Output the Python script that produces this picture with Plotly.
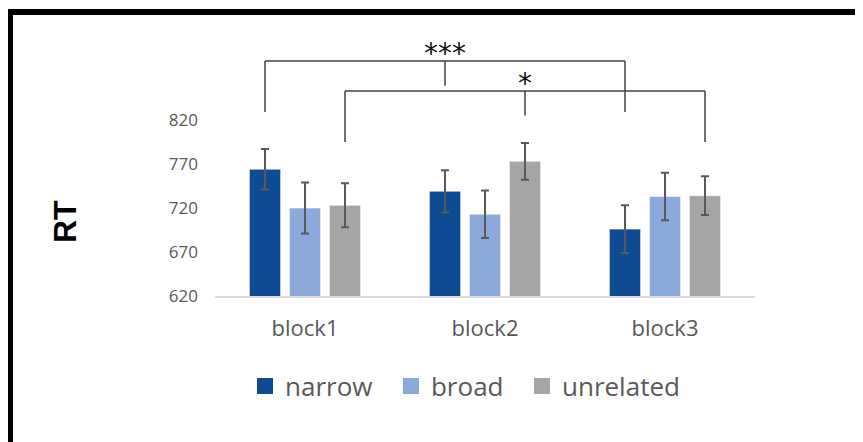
import plotly.graph_objects as go

# ---- data ----
categories = ["block1", "block2", "block3"]
series_names = ["narrow", "broad", "unrelated"]
narrow = [764, 739, 696]
broad = [720, 713, 733]
unrelated = [723, 773, 734]
narrow_err = [23, 24, 27]
broad_err = [29, 27, 27]
unrelated_err = [25, 21, 22]
colors = ["#0F4B93", "#8CA9DC", "#A5A5A5"]
y_ticks = [620, 670, 720, 770, 820]

# significance brackets: (start block, start series), (end block, end series), level, label
bracket_start = [(0, 0), (0, 2)]
bracket_end = [(2, 0), (2, 2)]
bracket_level = [887, 853]
bracket_label = ["***", "*"]

values = [narrow, broad, unrelated]
errors = [narrow_err, broad_err, unrelated_err]

OFF = 8  # page body margin
W, H = 863 - OFF, 442 - OFF
ML, MT = 215 - OFF, 32 - OFF
MR = W - (755 - OFF)
MB = H - (296 - OFF)
YMIN, YMAX = 620, 920
BARGAP = 1 / 3
n_series = len(series_names)
slot = (1 - BARGAP) / n_series

NB = "\u00a0"
legend_names = [series_names[0] + NB * 2, series_names[1] + NB * 2, series_names[2]]

fig = go.Figure()
for name, lname, vals, errs, col in zip(series_names, legend_names, values, errors, colors):
    fig.add_trace(go.Bar(
        x=categories, y=vals, name=name, showlegend=False,
        marker=dict(color=col, line=dict(color="rgba(255,255,255,0.55)", width=1)),
        error_y=dict(type="data", array=errs, visible=True,
                     color="#595959", thickness=2, width=4),
    ))
    # legend entry with a larger square swatch
    fig.add_trace(go.Scatter(
        x=[None], y=[None], mode="markers", name=lname,
        marker=dict(symbol="square", size=17, color=col),
    ))

def bar_x(block, series):
    return block - (1 - BARGAP) / 2 + slot * (series + 0.5)

line_style = dict(color="#404040", width=1.5)
foot_drop = 58
mid_drop = 28
for (b0, s0), (b1, s1), lvl, lab in zip(bracket_start, bracket_end, bracket_level, bracket_label):
    x0, x1 = bar_x(b0, s0), bar_x(b1, s1)
    xm = (x0 + x1) / 2
    fig.add_shape(type="line", xref="x", yref="y", x0=x0, x1=x1, y0=lvl, y1=lvl, line=line_style)
    fig.add_shape(type="line", xref="x", yref="y", x0=x0, x1=x0, y0=lvl, y1=lvl - foot_drop, line=line_style)
    fig.add_shape(type="line", xref="x", yref="y", x0=x1, x1=x1, y0=lvl, y1=lvl - foot_drop, line=line_style)
    fig.add_shape(type="line", xref="x", yref="y", x0=xm, x1=xm, y0=lvl, y1=lvl - mid_drop, line=line_style)
    fig.add_annotation(x=xm, y=lvl, xref="x", yref="y", text=lab, showarrow=False,
                       yanchor="bottom", yshift=-11,
                       font=dict(family="DejaVu Sans", size=28, color="#111111"))

pw = W - ML - MR
ph = H - MT - MB

def px2paper(px, py):
    # px, py are page coordinates of the reference image
    return (px - OFF - ML) / pw, (H - MB - (py - OFF)) / ph

# page frame (top and left thick borders)
tx0, ty = px2paper(7, 12)
tx1, _ = px2paper(863, 12)
fig.add_shape(type="line", xref="paper", yref="paper", x0=tx0, x1=tx1, y0=ty, y1=ty,
              line=dict(color="black", width=6))
lx, ly0 = px2paper(10, 9)
_, ly1 = px2paper(10, 442)
fig.add_shape(type="line", xref="paper", yref="paper", x0=lx, x1=lx, y0=ly0, y1=ly1,
              line=dict(color="black", width=6))

# RT label
rx, ry = px2paper(65, 222)
fig.add_annotation(x=rx, y=ry, xref="paper", yref="paper", text="<b>RT</b>", textangle=-90,
                   showarrow=False, xanchor="center", yanchor="middle",
                   font=dict(family="Liberation Sans Narrow, Liberation Sans, Arial", size=32, color="black"))

lgx, lgy = px2paper(465, 386)
fig.update_layout(
    width=W, height=H,
    margin=dict(l=ML, r=MR, t=MT, b=MB),
    paper_bgcolor="white", plot_bgcolor="white",
    barmode="group", bargap=BARGAP, bargroupgap=0.22,
    font=dict(family="Open Sans", color="#595959"),
    xaxis=dict(showgrid=False, showline=True, linecolor="#D9D9D9", linewidth=2,
               ticks="", tickfont=dict(size=22, color="#595959"), ticklabelstandoff=12,
               range=[-0.5, 2.5]),
    yaxis=dict(range=[YMIN, YMAX], tickvals=y_ticks, showgrid=False, zeroline=False,
               showline=False, ticks="", tickfont=dict(size=17, color="#595959"),
               ticklabelstandoff=16),
    legend=dict(orientation="h", x=lgx, y=lgy, xanchor="center", yanchor="middle",
                font=dict(size=26, color="#595959"), bgcolor="rgba(0,0,0,0)"),
)

fig.write_html("out.html")
